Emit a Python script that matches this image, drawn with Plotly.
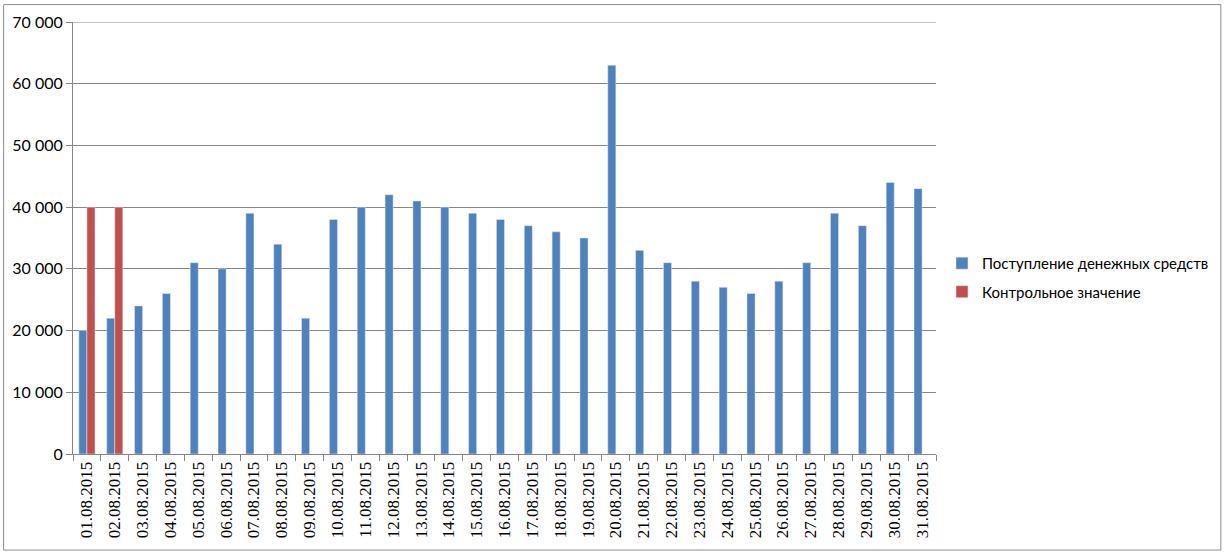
import plotly.graph_objects as go

dates = ["01.08.2015","02.08.2015","03.08.2015","04.08.2015","05.08.2015","06.08.2015",
         "07.08.2015","08.08.2015","09.08.2015","10.08.2015","11.08.2015","12.08.2015",
         "13.08.2015","14.08.2015","15.08.2015","16.08.2015","17.08.2015","18.08.2015",
         "19.08.2015","20.08.2015","21.08.2015","22.08.2015","23.08.2015","24.08.2015",
         "25.08.2015","26.08.2015","27.08.2015","28.08.2015","29.08.2015","30.08.2015",
         "31.08.2015"]
income = [20000, 22000, 24000, 26000, 31000, 30000, 39000, 34000, 22000, 38000, 40000,
          42000, 41000, 40000, 39000, 38000, 37000, 36000, 35000, 63000, 33000, 31000,
          28000, 27000, 26000, 28000, 31000, 39000, 37000, 44000, 43000]
control = [40000, 40000] + [None] * 29
series_names = ["Поступление денежных средств", "Контрольное значение"]
y_max = 70000

fig = go.Figure()
fig.add_trace(go.Bar(x=dates, y=income, name=series_names[0], marker_color="#4F81BD",
                     legendgroup="a"))
fig.add_trace(go.Bar(x=dates, y=control, name=series_names[1], marker_color="#C0504D",
                     legendgroup="b"))

L, R, T, B = 72, 937, 20, 454
W, H = 1226, 555
pw, ph = R - L, B - T

def px(xp):
    return (xp - L) / pw

def py(yp):
    return (B - yp) / ph

fig.update_layout(
    width=W, height=H,
    margin=dict(l=L, r=W - R, t=T, b=H - B, pad=0),
    barmode="group", bargap=0.42, bargroupgap=0,
    plot_bgcolor="white", paper_bgcolor="white",
    separators=", ",
    font=dict(family="Lato, Calibri, Arial", size=15, color="#000000"),
    legend=dict(x=px(943), y=py(246), xanchor="left", yanchor="top",
                font=dict(size=15), tracegroupgap=6,
                bgcolor="rgba(0,0,0,0)"),
    showlegend=True,
    shapes=[
        dict(type="rect", xref="paper", yref="paper",
             x0=px(2.5), x1=px(1222.5), y0=py(2.5), y1=py(550.5),
             line=dict(color="#8C8C8C", width=1), layer="below"),
        dict(type="line", xref="paper", yref="y", x0=0, x1=1, y0=y_max, y1=y_max,
             line=dict(color="#868686", width=1), layer="below"),
    ],
)
fig.update_xaxes(
    type="category", tickangle=-90, showgrid=False,
    showline=True, linecolor="#868686", linewidth=1,
    ticks="outside", tickson="boundaries", ticklen=6, tickcolor="#868686",
    tickfont=dict(family="Liberation Serif, Times New Roman", size=17),
)
fig.update_yaxes(
    range=[0, y_max], dtick=10000, tickformat=",d",
    showgrid=True, gridcolor="#868686", gridwidth=1,
    showline=True, linecolor="#868686", linewidth=1,
    ticks="outside", ticklen=6, tickcolor="#868686",
    zeroline=False,
    tickfont=dict(family="Lato, Calibri, Arial", size=16),
)

fig.write_html("out.html", config={"displayModeBar": False},
               post_script="document.body.style.margin='0';")
